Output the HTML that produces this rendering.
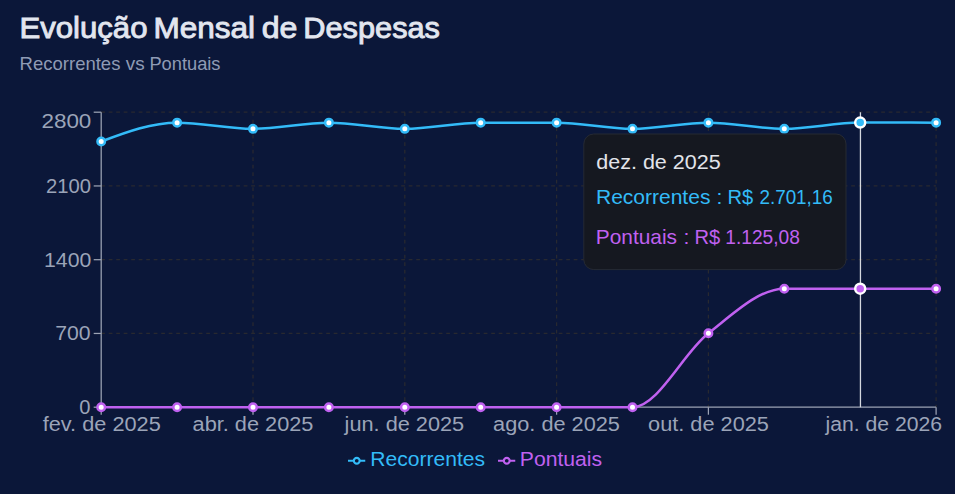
<!DOCTYPE html>
<html><head><meta charset="utf-8"><style>
html,body{margin:0;padding:0;}
body{width:955px;height:494px;background:#0b1739;position:relative;overflow:hidden;font-family:"Liberation Sans",sans-serif;}
text{white-space:pre;}
</style></head><body>
<svg width="955" height="494" viewBox="0 0 955 494" style="position:absolute;left:0;top:0" font-family="Liberation Sans, sans-serif">
<g stroke="#282930" stroke-width="1.25" stroke-dasharray="3.75 3.75" fill="none"><line x1="101.20" y1="333.45" x2="936.10" y2="333.45"/><line x1="101.20" y1="259.70" x2="936.10" y2="259.70"/><line x1="101.20" y1="185.95" x2="936.10" y2="185.95"/><line x1="101.20" y1="112.20" x2="936.10" y2="112.20"/><line x1="253.00" y1="112.20" x2="253.00" y2="407.20"/><line x1="404.80" y1="112.20" x2="404.80" y2="407.20"/><line x1="556.60" y1="112.20" x2="556.60" y2="407.20"/><line x1="708.40" y1="112.20" x2="708.40" y2="407.20"/><line x1="936.10" y1="112.20" x2="936.10" y2="407.20"/></g>
<g stroke="#9ca3b4" stroke-width="1.25" fill="none"><line x1="101.20" y1="112.20" x2="101.20" y2="407.20"/><line x1="101.20" y1="407.20" x2="936.10" y2="407.20"/><line x1="93.70" y1="407.20" x2="101.20" y2="407.20"/><line x1="93.70" y1="333.45" x2="101.20" y2="333.45"/><line x1="93.70" y1="259.70" x2="101.20" y2="259.70"/><line x1="93.70" y1="185.95" x2="101.20" y2="185.95"/><line x1="93.70" y1="112.20" x2="101.20" y2="112.20"/><line x1="101.20" y1="407.20" x2="101.20" y2="414.70"/><line x1="253.00" y1="407.20" x2="253.00" y2="414.70"/><line x1="404.80" y1="407.20" x2="404.80" y2="414.70"/><line x1="556.60" y1="407.20" x2="556.60" y2="414.70"/><line x1="708.40" y1="407.20" x2="708.40" y2="414.70"/><line x1="936.10" y1="407.20" x2="936.10" y2="414.70"/></g>
<text transform="translate(19.42,38.4) scale(1.0377,1)" fill="#e2e6ef" font-weight="normal" font-size="30" stroke="#e2e6ef" stroke-width="0.9">Evolução</text><text transform="translate(153.40,38.4) scale(1.0520,1)" fill="#e2e6ef" font-weight="normal" font-size="30" stroke="#e2e6ef" stroke-width="0.9">Mensal</text><text transform="translate(261.70,38.4) scale(1.0709,1)" fill="#e2e6ef" font-weight="normal" font-size="30" stroke="#e2e6ef" stroke-width="0.9">de</text><text transform="translate(303.35,38.4) scale(1.0241,1)" fill="#e2e6ef" font-weight="normal" font-size="30" stroke="#e2e6ef" stroke-width="0.9">Despesas</text><text transform="translate(19.60,69.8) scale(1.0010,1)" fill="#8f9bb5" font-weight="normal" font-size="18.5">Recorrentes</text><text transform="translate(125.80,69.8) scale(1.0197,1)" fill="#8f9bb5" font-weight="normal" font-size="18.5">vs</text><text transform="translate(149.42,69.8) scale(0.9878,1)" fill="#8f9bb5" font-weight="normal" font-size="18.5">Pontuais</text><text transform="translate(79.28,414.20) scale(0.9600,1)" fill="#9ba4b8" font-weight="normal" font-size="21">0</text><text transform="translate(55.19,340.45) scale(1.0105,1)" fill="#9ba4b8" font-weight="normal" font-size="21">700</text><text transform="translate(43.98,266.70) scale(1.0135,1)" fill="#9ba4b8" font-weight="normal" font-size="21">1400</text><text transform="translate(46.04,192.95) scale(0.9644,1)" fill="#9ba4b8" font-weight="normal" font-size="21">2100</text><text transform="translate(41.43,127.7) scale(1.0689,1)" fill="#9ba4b8" font-weight="normal" font-size="21">2800</text><text transform="translate(42.74,431) scale(1.0354,1)" fill="#9ba4b8" font-weight="normal" font-size="21">fev. de 2025</text><text transform="translate(253.00,431) scale(1.0354,1)" fill="#9ba4b8" font-size="21" text-anchor="middle">abr. de 2025</text><text transform="translate(404.40,431) scale(1.0354,1)" fill="#9ba4b8" font-size="21" text-anchor="middle">jun. de 2025</text><text transform="translate(556.50,431) scale(1.0354,1)" fill="#9ba4b8" font-size="21" text-anchor="middle">ago. de 2025</text><text transform="translate(708.50,431) scale(1.0354,1)" fill="#9ba4b8" font-size="21" text-anchor="middle">out. de 2025</text><text transform="translate(825.50,431) scale(1.0091,1)" fill="#9ba4b8" font-weight="normal" font-size="21">jan. de 2026</text><text transform="translate(370.24,465.8) scale(1.0049,1)" fill="#33bbf8" font-weight="normal" font-size="21">Recorrentes</text><text transform="translate(519.84,465.8) scale(1.0069,1)" fill="#c061f0" font-weight="normal" font-size="21">Pontuais</text>
<svg x="348" y="452" width="17.5" height="17.5" viewBox="0 0 32 32"><path stroke-width="4" fill="none" stroke="#33bbf8" d="M0,16h10.67A5.33,5.33,0,1,1,21.33,16H32M21.33,16A5.33,5.33,0,1,1,10.67,16"/></svg>
<svg x="498" y="452" width="17.5" height="17.5" viewBox="0 0 32 32"><path stroke-width="4" fill="none" stroke="#c061f0" d="M0,16h10.67A5.33,5.33,0,1,1,21.33,16H32M21.33,16A5.33,5.33,0,1,1,10.67,16"/></svg>
<line x1="860.45" y1="112.20" x2="860.45" y2="407.20" stroke="#d4d7de" stroke-width="1.3"/>
<path d="M101.20,141.49C126.50,132.06,151.80,122.63,177.10,122.63C202.40,122.63,227.70,128.85,253.00,128.85C278.30,128.85,303.60,122.63,328.90,122.63C354.20,122.63,379.50,128.85,404.80,128.85C430.10,128.85,455.40,122.63,480.70,122.63C506.00,122.63,531.30,122.63,556.60,122.63C581.90,122.63,607.20,128.85,632.50,128.85C657.80,128.85,683.10,122.63,708.40,122.63C733.70,122.63,759.00,128.85,784.30,128.85C809.60,128.85,834.90,122.61,860.20,122.61C885.50,122.61,910.80,122.62,936.10,122.63" fill="none" stroke="#33bbf8" stroke-width="2.5"/>
<circle cx="101.20" cy="141.49" r="3.75" fill="#fff" stroke="#33bbf8" stroke-width="2.5"/><circle cx="177.10" cy="122.63" r="3.75" fill="#fff" stroke="#33bbf8" stroke-width="2.5"/><circle cx="253.00" cy="128.85" r="3.75" fill="#fff" stroke="#33bbf8" stroke-width="2.5"/><circle cx="328.90" cy="122.63" r="3.75" fill="#fff" stroke="#33bbf8" stroke-width="2.5"/><circle cx="404.80" cy="128.85" r="3.75" fill="#fff" stroke="#33bbf8" stroke-width="2.5"/><circle cx="480.70" cy="122.63" r="3.75" fill="#fff" stroke="#33bbf8" stroke-width="2.5"/><circle cx="556.60" cy="122.63" r="3.75" fill="#fff" stroke="#33bbf8" stroke-width="2.5"/><circle cx="632.50" cy="128.85" r="3.75" fill="#fff" stroke="#33bbf8" stroke-width="2.5"/><circle cx="708.40" cy="122.63" r="3.75" fill="#fff" stroke="#33bbf8" stroke-width="2.5"/><circle cx="784.30" cy="128.85" r="3.75" fill="#fff" stroke="#33bbf8" stroke-width="2.5"/><circle cx="936.10" cy="122.63" r="3.75" fill="#fff" stroke="#33bbf8" stroke-width="2.5"/>
<path d="M101.20,407.20C126.50,407.20,151.80,407.20,177.10,407.20C202.40,407.20,227.70,407.20,253.00,407.20C278.30,407.20,303.60,407.20,328.90,407.20C354.20,407.20,379.50,407.20,404.80,407.20C430.10,407.20,455.40,407.20,480.70,407.20C506.00,407.20,531.30,407.20,556.60,407.20C581.90,407.20,607.20,407.20,632.50,407.20C657.80,407.20,683.10,352.99,708.40,333.24C733.70,313.48,759.00,288.68,784.30,288.67C809.60,288.67,834.90,288.66,860.20,288.66C885.50,288.66,910.80,288.67,936.10,288.67" fill="none" stroke="#c061f0" stroke-width="2.5"/>
<circle cx="101.20" cy="407.20" r="3.75" fill="#fff" stroke="#c061f0" stroke-width="2.5"/><circle cx="177.10" cy="407.20" r="3.75" fill="#fff" stroke="#c061f0" stroke-width="2.5"/><circle cx="253.00" cy="407.20" r="3.75" fill="#fff" stroke="#c061f0" stroke-width="2.5"/><circle cx="328.90" cy="407.20" r="3.75" fill="#fff" stroke="#c061f0" stroke-width="2.5"/><circle cx="404.80" cy="407.20" r="3.75" fill="#fff" stroke="#c061f0" stroke-width="2.5"/><circle cx="480.70" cy="407.20" r="3.75" fill="#fff" stroke="#c061f0" stroke-width="2.5"/><circle cx="556.60" cy="407.20" r="3.75" fill="#fff" stroke="#c061f0" stroke-width="2.5"/><circle cx="632.50" cy="407.20" r="3.75" fill="#fff" stroke="#c061f0" stroke-width="2.5"/><circle cx="708.40" cy="333.24" r="3.75" fill="#fff" stroke="#c061f0" stroke-width="2.5"/><circle cx="784.30" cy="288.67" r="3.75" fill="#fff" stroke="#c061f0" stroke-width="2.5"/><circle cx="936.10" cy="288.67" r="3.75" fill="#fff" stroke="#c061f0" stroke-width="2.5"/>
<circle cx="860.20" cy="122.61" r="5" fill="#33bbf8" stroke="#fff" stroke-width="2.5"/>
<circle cx="860.20" cy="288.66" r="5" fill="#c061f0" stroke="#fff" stroke-width="2.5"/>
<rect x="583.8" y="134" width="262.2" height="135.6" rx="10" fill="#151820" stroke="#262a33" stroke-width="1"/><text transform="translate(596.23,168.9) scale(1.0255,1)" fill="#e2e4ea" font-weight="normal" font-size="21">dez. de 2025</text><text transform="translate(595.95,204) scale(1.0013,1)" fill="#33bbf8" font-weight="normal" font-size="21">Recorrentes</text><text transform="translate(716.50,204) scale(1.0000,1)" fill="#33bbf8" font-weight="normal" font-size="21">:</text><text transform="translate(727.42,204) scale(0.9576,1)" fill="#33bbf8" font-weight="normal" font-size="21">R$</text><text transform="translate(759.40,204) scale(0.8991,1)" fill="#33bbf8" font-weight="normal" font-size="21">2.701,16</text><text transform="translate(595.76,243.6) scale(0.9943,1)" fill="#c061f0" font-weight="normal" font-size="21">Pontuais</text><text transform="translate(683.40,243.6) scale(1.0000,1)" fill="#c061f0" font-weight="normal" font-size="21">:</text><text transform="translate(694.42,243.6) scale(0.9576,1)" fill="#c061f0" font-weight="normal" font-size="21">R$</text><text transform="translate(725.23,243.6) scale(0.9136,1)" fill="#c061f0" font-weight="normal" font-size="21">1.125,08</text>
</svg>
</body></html>
